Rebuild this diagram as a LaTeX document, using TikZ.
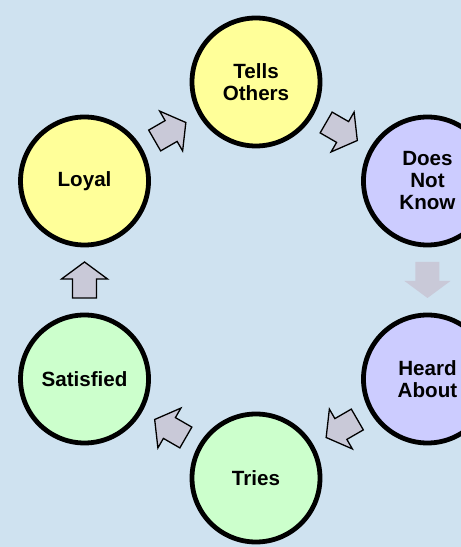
\documentclass[tikz,border=0pt]{standalone}
\usepackage{fontspec}
\setmainfont{Liberation Sans}
\usetikzlibrary{calc}
\definecolor{bgblue}{RGB}{207,226,240}
\definecolor{cyellow}{RGB}{255,255,153}
\definecolor{cviolet}{RGB}{204,204,255}
\definecolor{cgreen}{RGB}{204,255,204}
\definecolor{arrowfill}{RGB}{201,201,216}
\tikzset{
  stage/.style={circle, draw=black, line width=4.8pt, minimum size=128pt, inner sep=0pt, outer sep=0pt,
    align=center, font=\fontsize{20.6}{22}\selectfont\bfseries},
  arrowbox/.style={fill=arrowfill, draw=black, line width=1.3pt, line join=miter},
  fadedbox/.style={fill=arrowfill, draw=none},
  barrow/.pic={\path[pic actions] (-18,-12) -- (1,-12) -- (1,-23) -- (18,0) -- (1,23) -- (1,12) -- (-18,12) -- cycle;}
}
\newcommand{\blockconn}[3]{%
  \path let \p1=($(#2)-(#1)$), \n1={atan2(\y1,\x1)} in
    pic[#3, rotate=\n1] at ($(#1)!0.5!(#2)$) {barrow};}
\begin{document}
\begin{tikzpicture}[x=1pt,y=1pt]
\useasboundingbox (0,0) rectangle (461,547);
\fill[bgblue] (0,0) rectangle (461,547);
\coordinate (hub) at (256,267);
\node[stage, fill=cyellow] (tells) at ($(hub)+(90:198)$) {Tells\\Others};
\node[stage, fill=cviolet] (does) at ($(hub)+(30:198)$) {Does\\Not\\Know};
\node[stage, fill=cviolet] (heard) at ($(hub)+(-30:198)$) {Heard\\About};
\node[stage, fill=cgreen] (tries) at ($(hub)+(-90:198)$) {Tries};
\node[stage, fill=cgreen] (satisfied) at ($(hub)+(-150:198)$) {Satisfied};
\node[stage, fill=cyellow] (loyal) at ($(hub)+(150:198)$) {Loyal};
\blockconn{loyal}{tells}{arrowbox}
\blockconn{tells}{does}{arrowbox}
\blockconn{does}{heard}{fadedbox}
\blockconn{heard}{tries}{arrowbox}
\blockconn{tries}{satisfied}{arrowbox}
\blockconn{satisfied}{loyal}{arrowbox}
\end{tikzpicture}
\end{document}
